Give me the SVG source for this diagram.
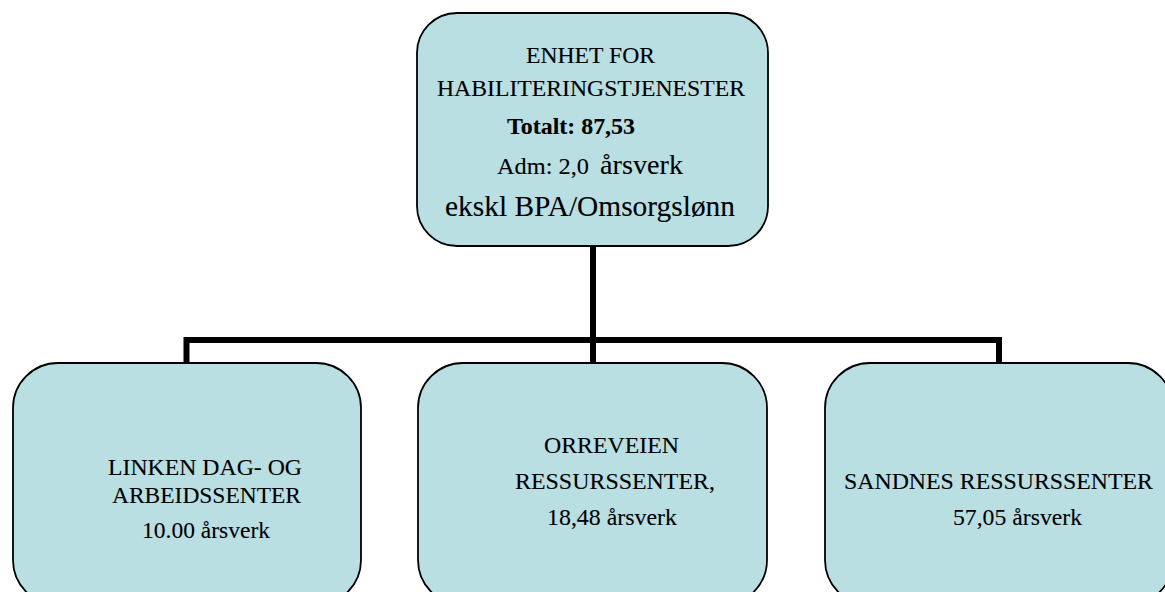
<svg xmlns="http://www.w3.org/2000/svg" width="1165" height="592" viewBox="0 0 1165 592">
<style>
.box{fill:#badfe3;stroke:#000;stroke-width:1.8}
.t{font-family:"Liberation Serif","Times New Roman",serif;fill:#000;font-size:23.6px;stroke:#000;stroke-width:0.1px}
.conn{stroke:#000;stroke-width:6;fill:none;stroke-linecap:square;stroke-linejoin:miter}
</style>
<rect width="1165" height="592" fill="#fff"/>
<g id="connectors">
<polyline class="conn" points="593,247 593,340"/>
<polyline class="conn" points="186.5,362 186.5,340 999,340 999,362"/>
<polyline class="conn" points="593,340 593,362"/>
</g>
<g id="top">
<rect class="box" x="417" y="13" width="351" height="233" rx="40" ry="40"/>
<text class="t" x="526" y="62.5" textLength="129" lengthAdjust="spacingAndGlyphs">ENHET FOR</text>
<text class="t" x="437" y="95.5" textLength="308" lengthAdjust="spacingAndGlyphs">HABILITERINGSTJENESTER</text>
<text class="t" x="507" y="134" font-weight="bold" textLength="128" lengthAdjust="spacingAndGlyphs">Totalt: 87,53</text>
<text class="t" x="497" y="174" style="font-size:24px" textLength="92" lengthAdjust="spacingAndGlyphs">Adm: 2,0</text>
<text class="t" x="600" y="174" style="font-size:28px" textLength="83" lengthAdjust="spacingAndGlyphs">årsverk</text>
<text class="t" x="445" y="215.5" style="font-size:29px" textLength="290" lengthAdjust="spacingAndGlyphs">ekskl BPA/Omsorgslønn</text>
</g>
<g id="linken">
<rect class="box" x="13" y="363" width="348" height="242" rx="45" ry="45"/>
<text class="t" x="108" y="475" textLength="194" lengthAdjust="spacingAndGlyphs">LINKEN DAG- OG</text>
<text class="t" x="112" y="503" textLength="189" lengthAdjust="spacingAndGlyphs">ARBEIDSSENTER</text>
<text class="t" x="142" y="538" textLength="128" lengthAdjust="spacingAndGlyphs">10.00 årsverk</text>
</g>
<g id="orreveien">
<rect class="box" x="418" y="363" width="349" height="242" rx="45" ry="45"/>
<text class="t" x="544" y="453" textLength="135" lengthAdjust="spacingAndGlyphs">ORREVEIEN</text>
<text class="t" x="515" y="489" textLength="200" lengthAdjust="spacingAndGlyphs">RESSURSSENTER,</text>
<text class="t" x="547" y="525" textLength="130" lengthAdjust="spacingAndGlyphs">18,48 årsverk</text>
</g>
<g id="sandnes">
<rect class="box" x="825" y="363" width="348" height="242" rx="45" ry="45"/>
<text class="t" x="844" y="489" textLength="309" lengthAdjust="spacingAndGlyphs">SANDNES RESSURSSENTER</text>
<text class="t" x="953" y="525" textLength="129" lengthAdjust="spacingAndGlyphs">57,05 årsverk</text>
</g>
</svg>
